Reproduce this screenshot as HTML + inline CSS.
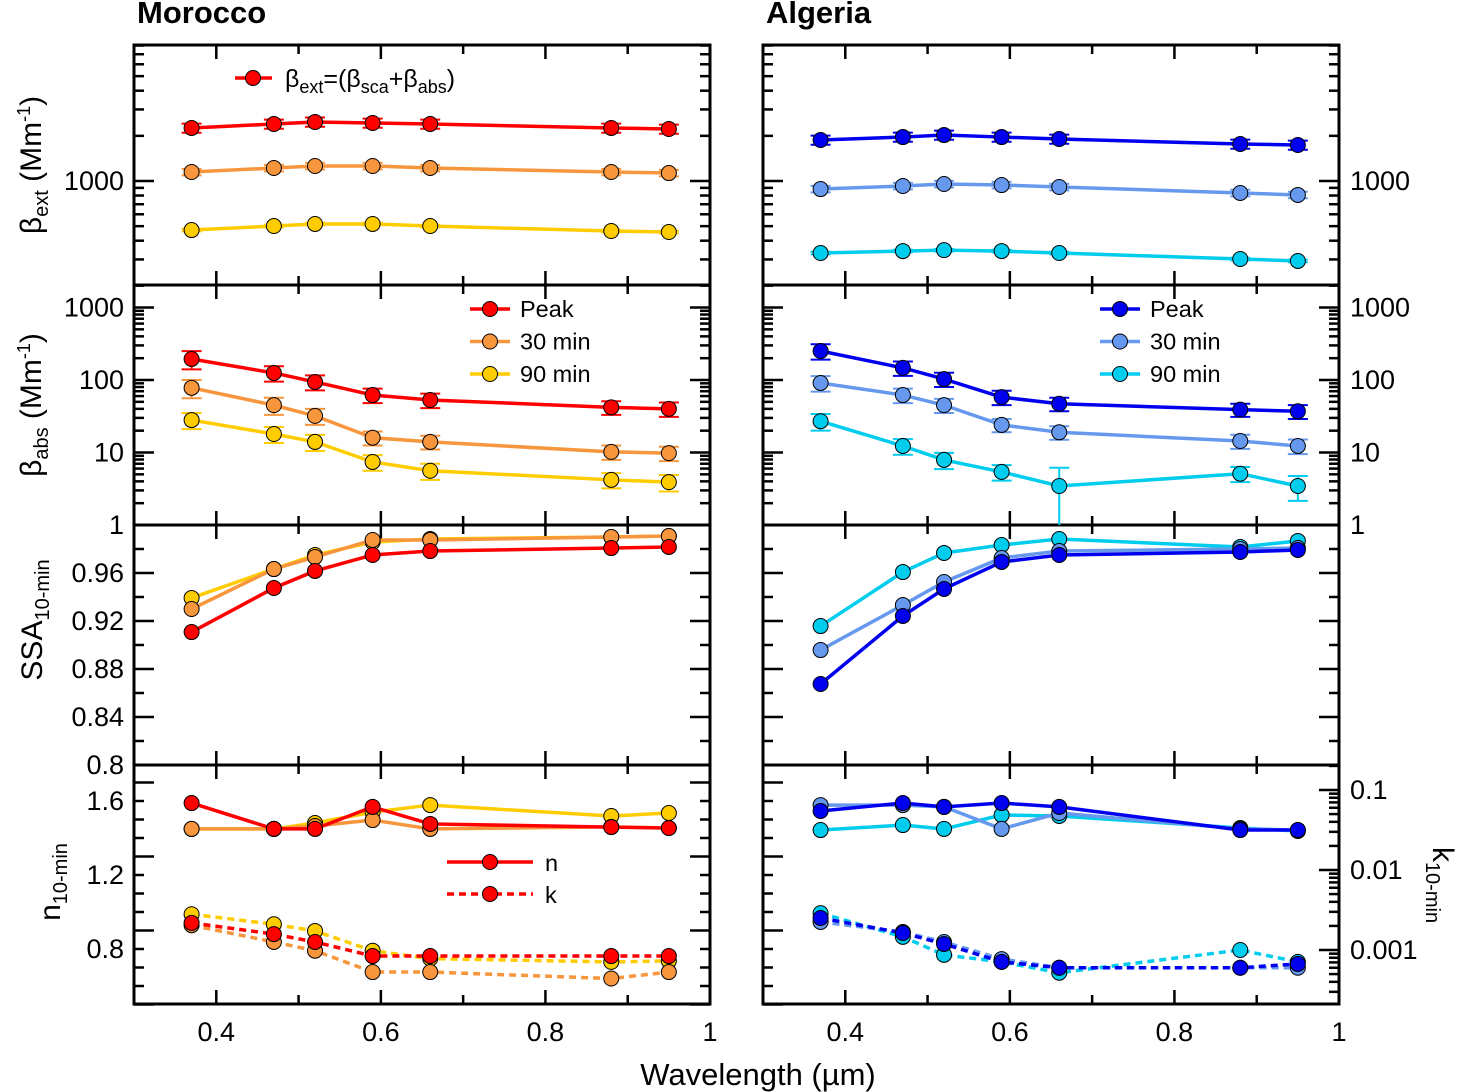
<!DOCTYPE html>
<html><head><meta charset="utf-8"><style>
body{margin:0;background:#fff;}
svg{display:block;font-family:"Liberation Sans",sans-serif;}
</style></head><body>
<svg id="c" width="1462" height="1092" viewBox="0 0 1462 1092"></svg>
<script>
const wl=[0.37,0.47,0.52,0.59,0.66,0.88,0.95];
const seriesNames=["Peak","30 min","90 min"];
const morColors=["#ff0000","#f7963c","#ffcc00"];
const algColors=["#0000ee","#6699ee","#00ccee"];
// beta_ext
const morExt=[[2257,2399,2475,2436,2399,2257,2222],[1148,1221,1259,1259,1221,1148,1130],[471,501,517,517,501,464,457]];
const algExt=[[1876,1963,2025,1963,1905,1765,1738],[884,926,955,940,912,832,807],[331,341,346,341,331,302,293]];
const extErrFrac=[0.07,0.05,0.02];
// beta_abs
const morAbs=[[195,125,94,62,53,42,40],[78,45,32,16,14,10.2,9.8],[28,18,14,7.4,5.6,4.2,3.9]];
const algAbs=[[251,147,103,58,47,39,37],[91,62,45,24,19,14.4,12.3],[27,12.3,7.9,5.4,3.45,5.1,3.45]];
const morAbsErr=[[55,30,22,14,12,9,9],[22,12,8,3.5,3,2.3,2.2],[7,4.5,3.5,1.8,1.4,1,1]];
const algAbsErr=[[60,33,23,13,10,8,8],[22,14,10,5,4,3.2,2.8],[7,3,2,1.3,2.7,1.2,1.3]];
// SSA
const morSSA=[[0.9108,0.9475,0.9617,0.975,0.9783,0.9808,0.9817],[0.93,0.9633,0.9733,0.9875,0.9875,0.99,0.9908],[0.9392,0.9633,0.975,0.9858,0.9883,0.99,0.9908]];
const algSSA=[[0.8675,0.9242,0.9467,0.9692,0.975,0.9775,0.9792],[0.8958,0.9333,0.9525,0.9725,0.9783,0.98,0.9808],[0.9158,0.9608,0.9767,0.9833,0.9883,0.9817,0.9867]];
// n and k
const morN=[[1.589,1.449,1.449,1.568,1.476,1.459,1.454],[1.449,1.449,1.465,1.497,1.449,1.46,1.454],[1.449,1.449,1.481,1.54,1.578,1.519,1.535]];
const algN=[[1.546,1.589,1.568,1.589,1.568,1.443,1.443],[1.578,1.578,1.568,1.449,1.535,1.449,1.443],[1.443,1.47,1.449,1.524,1.519,1.454,1.438]];
const morK=[[0.00218,0.00158,0.00126,0.00084,0.00084,0.00084,0.00084],[0.00204,0.00126,0.00098,0.00053,0.00053,0.00044,0.00053],[0.0028,0.0021,0.00173,0.00098,0.00078,0.00071,0.00073]];
const algK=[[0.00251,0.00163,0.00119,0.00071,0.0006,0.0006,0.00067],[0.00224,0.00168,0.00126,0.00077,0.0006,0.0006,0.0006],[0.00289,0.00146,0.00087,0.00071,0.00052,0.001,0.00071]];
const xTickVals=[0.4,0.6,0.8,1];
const xTickLabels=["0.4","0.6","0.8","1"];

const NS="http://www.w3.org/2000/svg";
const svg=document.getElementById('c');
function el(t,a,p){const e=document.createElementNS(NS,t);for(const k in a)e.setAttribute(k,a[k]);(p||svg).appendChild(e);return e;}
function txt(x,y,s,o,p){const e=el('text',Object.assign({x:x,y:y,'font-size':27,fill:'#000'},o||{}),p);e.innerHTML=s;return e;}

const cols=[{x0:134,x1:710,colors:morColors,name:'morocco'},{x0:763,x1:1339,colors:algColors,name:'algeria'}];
const rows=[{y0:45,y1:285},{y0:285,y1:525},{y0:525,y1:765},{y0:765,y1:1004}];
function xs(c,v){return c.x0+(v-0.3)/0.7*(c.x1-c.x0);}
const yExt=v=>181-150*Math.log10(v/1000);
const yAbs=v=>525-72.5*Math.log10(v);
const ySSA=v=>765-(v-0.8)*1200;
const yN=v=>949-(v-0.8)*185;
const yK=v=>790+80*(-1-Math.log10(v));

function logTicks(yf,lo,hi,ymin,ymax){const out=[];for(let d=lo;d<=hi;d++){for(let m=1;m<=9;m++){const v=m*Math.pow(10,d);const y=yf(v);if(y>=ymin-0.5&&y<=ymax+0.5)out.push({y:y,major:m===1});}}return out;}

function drawAxes(c,r,ticksL,ticksR,ci,ri){
  const g=el('g',{});
  
  
  el('rect',{x:c.x0,y:r.y0,width:c.x1-c.x0,height:r.y1-r.y0,fill:'none',stroke:'#000','stroke-width':3},g);
  for(let v=0.4;v<0.999;v+=0.1){const x=xs(c,v);const maj=Math.abs((v*10)%2)<0.01||Math.abs((v*10)%2-2)<0.01;const L=maj?14:9;
    el('line',{x1:x,y1:r.y1,x2:x,y2:r.y1-L,stroke:'#000','stroke-width':2.5},g);
    el('line',{x1:x,y1:r.y0,x2:x,y2:r.y0+L,stroke:'#000','stroke-width':2.5},g);}
  ticksL.forEach(t=>{const L=t.major?20:10;el('line',{x1:c.x0,y1:t.y,x2:c.x0+L,y2:t.y,stroke:'#000','stroke-width':2.5},g);});
  ticksR.forEach(t=>{const L=t.major?20:10;el('line',{x1:c.x1,y1:t.y,x2:c.x1-L,y2:t.y,stroke:'#000','stroke-width':2.5},g);});
}
function linTicks(yf,a,b,step,majStep,ymin,ymax){const o=[];for(let v=a;v<=b+1e-9;v+=step){const y=yf(v);if(y>=ymin-0.5&&y<=ymax+0.5){const q=Math.round((v-a)/majStep*1000)/1000;o.push({y:y,major:Math.abs(q-Math.round(q))<1e-3});}}return o;}

function series(c,vals,yf,color,name,opts){
  opts=opts||{};
  const g=el('g',{});
  
  
  const pts=vals.map((v,i)=>[xs(c,wl[i]),yf(v)]);
  el('polyline',{points:pts.map(p=>p.join(',')).join(' '),fill:'none',stroke:color,'stroke-width':3.5,'stroke-dasharray':opts.dash||'none'},g);
  if(opts.err){vals.forEach((v,i)=>{const e=opts.err[i];if(!e)return;const x=pts[i][0];let yt=yf(v+e),yb=v-e>0?yf(v-e):opts.clip;yb=Math.min(yb,opts.clip);
    el('line',{x1:x,y1:yt,x2:x,y2:yb,stroke:color,'stroke-width':2},g);
    el('line',{x1:x-10,y1:yt,x2:x+10,y2:yt,stroke:color,'stroke-width':2},g);
    if(yb<opts.clip-1)el('line',{x1:x-10,y1:yb,x2:x+10,y2:yb,stroke:color,'stroke-width':2},g);});}
  pts.forEach((p,i)=>{const m=el('circle',{cx:p[0],cy:p[1],r:7.5,fill:color,stroke:'#000','stroke-width':1},g);
    
    });
}

cols.forEach((c,ci)=>{
  const left=ci===0;
  const t1=logTicks(yExt,2,3,45,285);
  drawAxes(c,rows[0],t1,t1,ci,0);
  const t2=logTicks(yAbs,0,3,285,525);
  drawAxes(c,rows[1],t2,t2,ci,1);
  const t3=linTicks(ySSA,0.8,1.0,0.02,0.04,525,765);
  drawAxes(c,rows[2],t3,t3,ci,2);
  const t4n=linTicks(yN,0.5,1.8,0.1,0.4,765,1004);
  const t4k=logTicks(yK,-4,-1,765,1004);
  drawAxes(c,rows[3],t4n,left?t4n:t4k,ci,3);
  const ext=left?morExt:algExt, abs=left?morAbs:algAbs, absE=left?morAbsErr:algAbsErr, ssa=left?morSSA:algSSA, nn=left?morN:algN, kk=left?morK:algK;
  for(let s=2;s>=0;s--){
    series(c,ext[s],yExt,c.colors[s],c.name+'-ext-'+s,{err:ext[s].map(v=>v*extErrFrac[s]),clip:285});
    series(c,abs[s],yAbs,c.colors[s],c.name+'-abs-'+s,{err:absE[s],clip:525});
    series(c,ssa[s],ySSA,c.colors[s],c.name+'-ssa-'+s,{});
    series(c,kk[s],yK,c.colors[s],c.name+'-k-'+s,{dash:'7,5'});
    series(c,nn[s],yN,c.colors[s],c.name+'-n-'+s,{});
  }
  xTickVals.forEach((v,i)=>{const t=txt(xs(c,v),1041,xTickLabels[i],{'text-anchor':'middle'});
    
    });
  const lx=left?470:1100;
  seriesNames.forEach((s,i)=>{const y=309+i*32.5;
    const lg=el('g',{});
    
    
    el('line',{x1:lx,y1:y,x2:lx+40,y2:y,stroke:c.colors[i],'stroke-width':3.5},lg);
    el('circle',{cx:lx+20,cy:y,r:7.5,fill:c.colors[i],stroke:'#000','stroke-width':1},lg);
    txt(lx+50,y+8,s,{'font-size':23.5},lg);});
});
function lab(x,y,s,anchor,name){const t=txt(x,y+9,s,{'text-anchor':anchor});}
lab(124,181,'1000','end','y1-tick-1000');
lab(1350,181,'1000','start','y1r-tick-1000');
[[1000,'1000'],[100,'100'],[10,'10'],[1,'1']].forEach(a=>{lab(124,yAbs(a[0]),a[1],'end','y2-tick-'+a[1]);lab(1350,yAbs(a[0]),a[1],'start','y2r-tick-'+a[1]);});
[0.96,0.92,0.88,0.84,0.8].forEach(v=>{const s=v===0.8?'0.8':v.toFixed(2);lab(124,ySSA(v),s,'end','y3-tick');});
[1.6,1.2,0.8].forEach(v=>lab(124,yN(v),v.toFixed(1),'end','y4-tick'));
[[0.1,'0.1'],[0.01,'0.01'],[0.001,'0.001']].forEach(a=>lab(1350,yK(a[0]),a[1],'start','k-tick-'+a[1]));
function ttl(x,y,s,o,name){const t=txt(x,y,s,o);}
ttl(137,23,'Morocco',{'font-size':31,'font-weight':'bold'},'morocco-title');
ttl(766,23,'Algeria',{'font-size':31,'font-weight':'bold'},'algeria-title');
ttl(758,1085,'Wavelength (µm)',{'font-size':31,'text-anchor':'middle'},'x-axis-title');
ttl(0,0,'β<tspan font-size="20" dy="7">ext</tspan><tspan dy="-7"> (Mm</tspan><tspan font-size="18" dy="-11">-1</tspan><tspan dy="11">)</tspan>',{'font-size':30,'text-anchor':'middle',transform:'translate(41,165) rotate(-90)'},'y1-title');
ttl(0,0,'β<tspan font-size="20" dy="7">abs</tspan><tspan dy="-7"> (Mm</tspan><tspan font-size="18" dy="-11">-1</tspan><tspan dy="11">)</tspan>',{'font-size':30,'text-anchor':'middle',transform:'translate(41,405) rotate(-90)'},'y2-title');
ttl(0,0,'SSA<tspan font-size="20" dy="7">10-min</tspan>',{'font-size':30,'text-anchor':'middle',transform:'translate(42,620) rotate(-90)'},'y3-title');
ttl(0,0,'n<tspan font-size="20" dy="7">10-min</tspan>',{'font-size':30,'text-anchor':'middle',transform:'translate(60,882) rotate(-90)'},'y4-title');
ttl(0,0,'k<tspan font-size="20" dy="7">10-min</tspan>',{'font-size':30,'text-anchor':'middle',transform:'translate(1433,885) rotate(90)'},'k-title');
(function(){const g=el('g',{});
el('line',{x1:235,y1:78,x2:272,y2:78,stroke:'#ff0000','stroke-width':3.5},g);
el('circle',{cx:253,cy:78,r:7.5,fill:'#ff0000',stroke:'#000','stroke-width':1},g);
txt(285,87,'β<tspan font-size="18" dy="6">ext</tspan><tspan dy="-6">=(β</tspan><tspan font-size="18" dy="6">sca</tspan><tspan dy="-6">+β</tspan><tspan font-size="18" dy="6">abs</tspan><tspan dy="-6">)</tspan>',{'font-size':25},g);})();
(function(){const g=el('g',{});
el('line',{x1:447,y1:862,x2:533,y2:862,stroke:'#ff0000','stroke-width':3.5},g);
el('circle',{cx:490,cy:862,r:7.5,fill:'#ff0000',stroke:'#000','stroke-width':1},g);
txt(545,871,'n',{'font-size':23.5},g);
el('line',{x1:447,y1:894,x2:533,y2:894,stroke:'#ff0000','stroke-width':3.5,'stroke-dasharray':'7,5'},g);
el('circle',{cx:490,cy:894,r:7.5,fill:'#ff0000',stroke:'#000','stroke-width':1},g);
txt(545,903,'k',{'font-size':23.5},g);})();
</script>
</body></html>
